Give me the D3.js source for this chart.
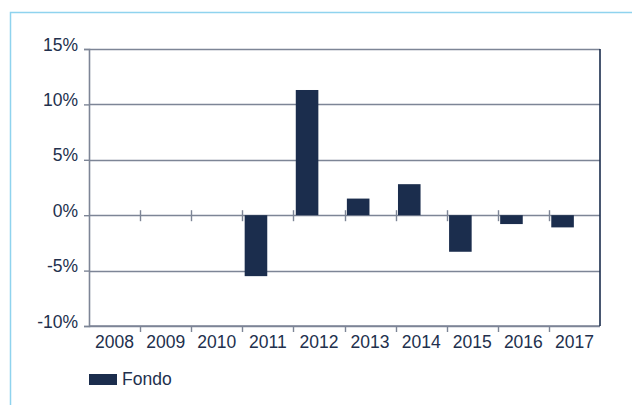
<!DOCTYPE html>
<html>
<head>
<meta charset="utf-8">
<script src="https://cdn.jsdelivr.net/npm/d3@7"></script>
<style>
  body { margin: 0; background: #ffffff; }
  svg { display: block; font-family: "Liberation Sans", Arial, sans-serif; }
</style>
</head>
<body>
<svg id="chart"></svg>
<script>
// data
var years = ["2008", "2009", "2010", "2011", "2012", "2013", "2014", "2015", "2016", "2017"];
var fondo = [null, null, null, -5.5, 11.3, 1.5, 2.8, -3.3, -0.8, -1.1];
var seriesNames = ["Fondo"];
var yTicks = [-10, -5, 0, 5, 10, 15];

var screen = {width: 632, height: 405};
var margins = {top: 49, bottom: 79, left: 89, right: 32};
var graph = {
    width: screen.width - margins.left - margins.right,
    height: screen.height - margins.top - margins.bottom
};

var svg = d3.select("#chart")
    .attr("width", screen.width)
    .attr("height", screen.height);

// light blue frame round the chart
svg.append("path")
    .attr("d", "M10.5,405 L10.5,12.5 L640,12.5")
    .attr("fill", "none")
    .attr("stroke", "#8fd3ee")
    .attr("stroke-width", 1.5);

var xScale = d3.scaleBand()
    .domain(years)
    .range([0, graph.width]);

// two slots per year, only the first one is filled
var x1 = d3.scaleBand()
    .domain(["Fondo", "other"])
    .range([0, xScale.bandwidth()])
    .paddingInner(0.05)
    .paddingOuter(0.1);

var yScale = d3.scaleLinear()
    .domain([-10, 15])
    .range([graph.height, 0]);

var plot = svg.append("g")
    .attr("transform", "translate(" + margins.left + "," + margins.top + ")");

var textColor = "#22304d";
var gridColor = "#7d8596";

// gridlines
plot.selectAll(".grid")
    .data(yTicks)
    .enter()
    .append("line")
    .attr("class", "grid")
    .attr("x1", 0)
    .attr("x2", graph.width)
    .attr("y1", function(d) { return Math.round(yScale(d)) + 0.5; })
    .attr("y2", function(d) { return Math.round(yScale(d)) + 0.5; })
    .style("stroke", gridColor)
    .style("stroke-width", 1.6);

// y axis, labels sit just above their line
var yAxis = plot.append("g")
    .call(d3.axisLeft(yScale).tickValues(yTicks).tickSize(5).tickPadding(6)
        .tickFormat(function(d) { return d + "%"; }));
yAxis.select(".domain").style("stroke", gridColor).style("stroke-width", 1.6);
yAxis.selectAll(".tick line").style("stroke", gridColor).style("stroke-width", 1.4);
yAxis.selectAll("text")
    .style("font-size", "17.5px")
    .style("fill", textColor)
    .attr("dy", "0.06em");

// bars
plot.selectAll(".bar")
    .data(fondo.map(function(v, i) { return {year: years[i], value: v}; })
        .filter(function(d) { return d.value !== null; }))
    .enter()
    .append("rect")
    .attr("class", "bar")
    .attr("x", function(d) { return xScale(d.year) + x1(seriesNames[0]); })
    .attr("width", x1.bandwidth())
    .attr("y", function(d) { return yScale(Math.max(0, d.value)); })
    .attr("height", function(d) { return Math.abs(yScale(d.value) - yScale(0)); })
    .style("fill", "#1b2d4d");

// ticks between the categories on the zero line
var bounds = years.slice(1).map(function(y) { return xScale(y); });
plot.selectAll(".zerotick")
    .data(bounds)
    .enter()
    .append("line")
    .attr("x1", function(d) { return Math.round(d) + 0.5; })
    .attr("x2", function(d) { return Math.round(d) + 0.5; })
    .attr("y1", yScale(0) - 5)
    .attr("y2", yScale(0) + 6)
    .style("stroke", gridColor)
    .style("stroke-width", 1.4);

// x axis at the bottom
var xAxis = plot.append("g")
    .attr("transform", "translate(0," + graph.height + ")")
    .call(d3.axisBottom(xScale).tickSize(0).tickPadding(9.5));
xAxis.select(".domain").remove();
xAxis.selectAll("text")
    .style("font-size", "17.5px")
    .style("fill", textColor);
xAxis.selectAll(".btick")
    .data(bounds)
    .enter()
    .append("line")
    .attr("x1", function(d) { return Math.round(d) + 0.5; })
    .attr("x2", function(d) { return Math.round(d) + 0.5; })
    .attr("y1", 0)
    .attr("y2", 6)
    .style("stroke", gridColor)
    .style("stroke-width", 1.4);

// bottom line and right border
plot.append("line")
    .attr("x1", 0).attr("x2", graph.width)
    .attr("y1", graph.height).attr("y2", graph.height)
    .style("stroke", gridColor).style("stroke-width", 1.6);
plot.append("line")
    .attr("x1", graph.width).attr("x2", graph.width)
    .attr("y1", 0).attr("y2", graph.height)
    .style("stroke", "#1b2d4d").style("stroke-width", 1.6);

// legend
var legend = svg.append("g")
    .attr("transform", "translate(89,374)");
legend.append("rect")
    .attr("width", 28)
    .attr("height", 11)
    .style("fill", "#1b2d4d");
legend.append("text")
    .attr("x", 33)
    .attr("y", 11)
    .style("font-size", "17.5px")
    .style("fill", textColor)
    .text(seriesNames[0]);
</script>
</body>
</html>
